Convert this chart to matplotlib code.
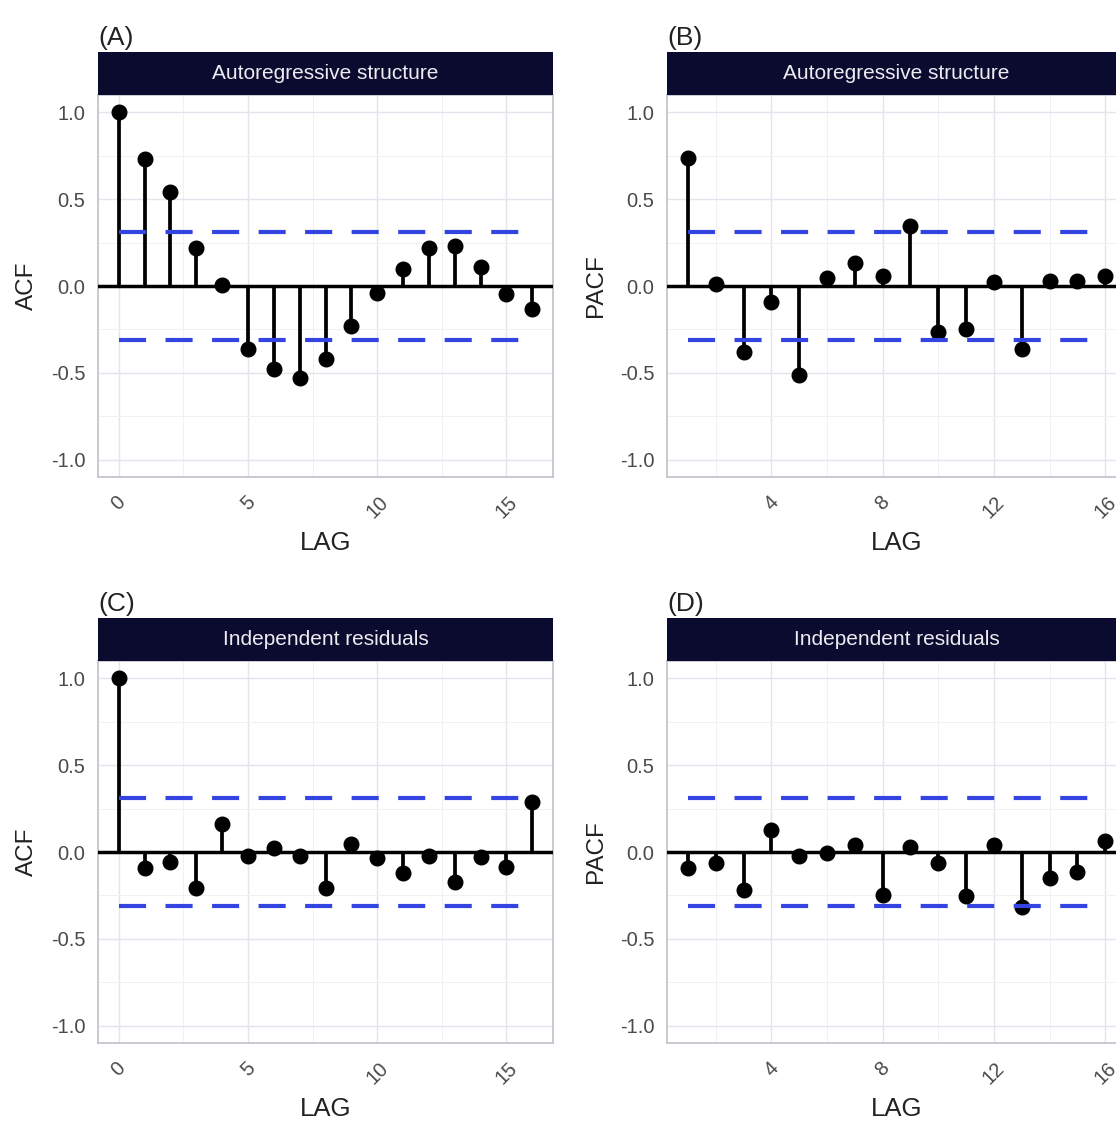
import matplotlib
matplotlib.use("Agg")
import matplotlib.pyplot as plt
import numpy as np

plt.rcParams["font.family"] = ["Liberation Sans", "DejaVu Sans"]
plt.rcParams["lines.scale_dashes"] = False

### data

lags_acf = np.arange(0, 17)
lags_pacf = np.arange(1, 17)

acf_ar = [1.0, 0.73, 0.54, 0.22, 0.005, -0.365, -0.48, -0.53, -0.42, -0.23,
          -0.04, 0.10, 0.22, 0.23, 0.11, -0.045, -0.135]
pacf_ar = [0.74, 0.01, -0.38, -0.09, -0.51, 0.045, 0.135, 0.055, 0.345,
           -0.265, -0.25, 0.025, -0.36, 0.03, 0.03, 0.055]
acf_ind = [1.0, -0.093, -0.056, -0.206, 0.159, -0.023, 0.025, -0.023, -0.206,
           0.045, -0.035, -0.12, -0.023, -0.17, -0.03, -0.085, 0.29]
pacf_ind = [-0.093, -0.062, -0.22, 0.124, -0.025, -0.006, 0.04, -0.245, 0.027,
            -0.064, -0.253, 0.041, -0.315, -0.15, -0.115, 0.062]

ci_bound = 0.31

strip_titles = ["Autoregressive structure", "Independent residuals"]
panel_tags = ["(A)", "(B)", "(C)", "(D)"]

### layout (pixels)

W, H = 1116, 1124
fig = plt.figure(figsize=(W / 100, H / 100), dpi=100)


def px_axes(x0, y0, x1, y1):
    return fig.add_axes([x0 / W, 1 - y1 / H, (x1 - x0) / W, (y1 - y0) / H])


cols = [(98, 553), (667, 1126)]   # right column runs past the edge, as in the reference
rows = [(95, 477), (661, 1043)]
strip_h = 43

panels = [
    (0, 0, lags_acf, acf_ar, "ACF", strip_titles[0], panel_tags[0]),
    (0, 1, lags_pacf, pacf_ar, "PACF", strip_titles[0], panel_tags[1]),
    (1, 0, lags_acf, acf_ind, "ACF", strip_titles[1], panel_tags[2]),
    (1, 1, lags_pacf, pacf_ind, "PACF", strip_titles[1], panel_tags[3]),
]

for r, c, lags, vals, ylab, strip, tag in panels:
    x0, x1 = cols[c]
    y0, y1 = rows[r]
    ax = px_axes(x0, y0, x1, y1)

    span = lags.max() - lags.min()
    ax.set_xlim(lags.min() - 0.05 * span, lags.max() + 0.05 * span)
    ax.set_ylim(-1.1, 1.1)

    ax.axhline(0, color="black", lw=2.5, zorder=3)
    ax.vlines(lags, 0, vals, color="black", lw=2.7, zorder=3)
    ax.plot(lags, vals, "o", color="black", ms=10.5, zorder=4)
    for b in (ci_bound, -ci_bound):
        ax.plot([lags.min(), lags.max()], [b, b], color="#3444e0", lw=3.0,
                dashes=(19.5, 14.0), dash_capstyle="butt", zorder=5)

    if ylab == "ACF":
        ax.set_xticks([0, 5, 10, 15])
        ax.set_xticks([2.5, 7.5, 12.5], minor=True)
    else:
        ax.set_xticks([4, 8, 12, 16])
        ax.set_xticks([2, 6, 10, 14], minor=True)
    ax.set_yticks([-1.0, -0.5, 0.0, 0.5, 1.0])
    ax.set_yticks([-0.75, -0.25, 0.25, 0.75], minor=True)
    ax.set_yticklabels(["-1.0", "-0.5", "0.0", "0.5", "1.0"])

    ax.grid(which="major", color="#e4e4ec", lw=1.0)
    ax.grid(which="minor", color="#f0f0f5", lw=0.7)
    ax.set_axisbelow(True)
    for s in ax.spines.values():
        s.set_color("#c4c6cf")
        s.set_linewidth(1.3)

    ax.tick_params(which="both", length=0, labelsize=14.5, labelcolor="#4a4a4a")
    ax.tick_params(axis="y", pad=9)
    ax.tick_params(axis="x", pad=11, labelrotation=45)

    # facet strip
    sax = px_axes(x0, y0 - strip_h, x1, y0)
    sax.set_facecolor("#0b0b2f")
    sax.set_xticks([])
    sax.set_yticks([])
    for s in sax.spines.values():
        s.set_visible(False)
    sax.text(0.5, 0.5, strip, transform=sax.transAxes, ha="center", va="center",
             fontsize=15, color="#ececf2")

    # axis titles and panel tag
    fig.text(((x0 + x1) / 2) / W, 1 - (y1 + 66) / H, "LAG", ha="center",
             va="center", fontsize=18.5, color="#222222")
    fig.text((x0 - 71) / W, 1 - ((y0 + y1) / 2) / H, ylab, ha="center",
             va="center", rotation=90, fontsize=17.5, color="#222222")
    fig.text(x0 / W, 1 - (y0 - strip_h - 7) / H, tag, ha="left", va="baseline",
             fontsize=19, color="#222222")

fig.savefig("out.png", dpi=100)
